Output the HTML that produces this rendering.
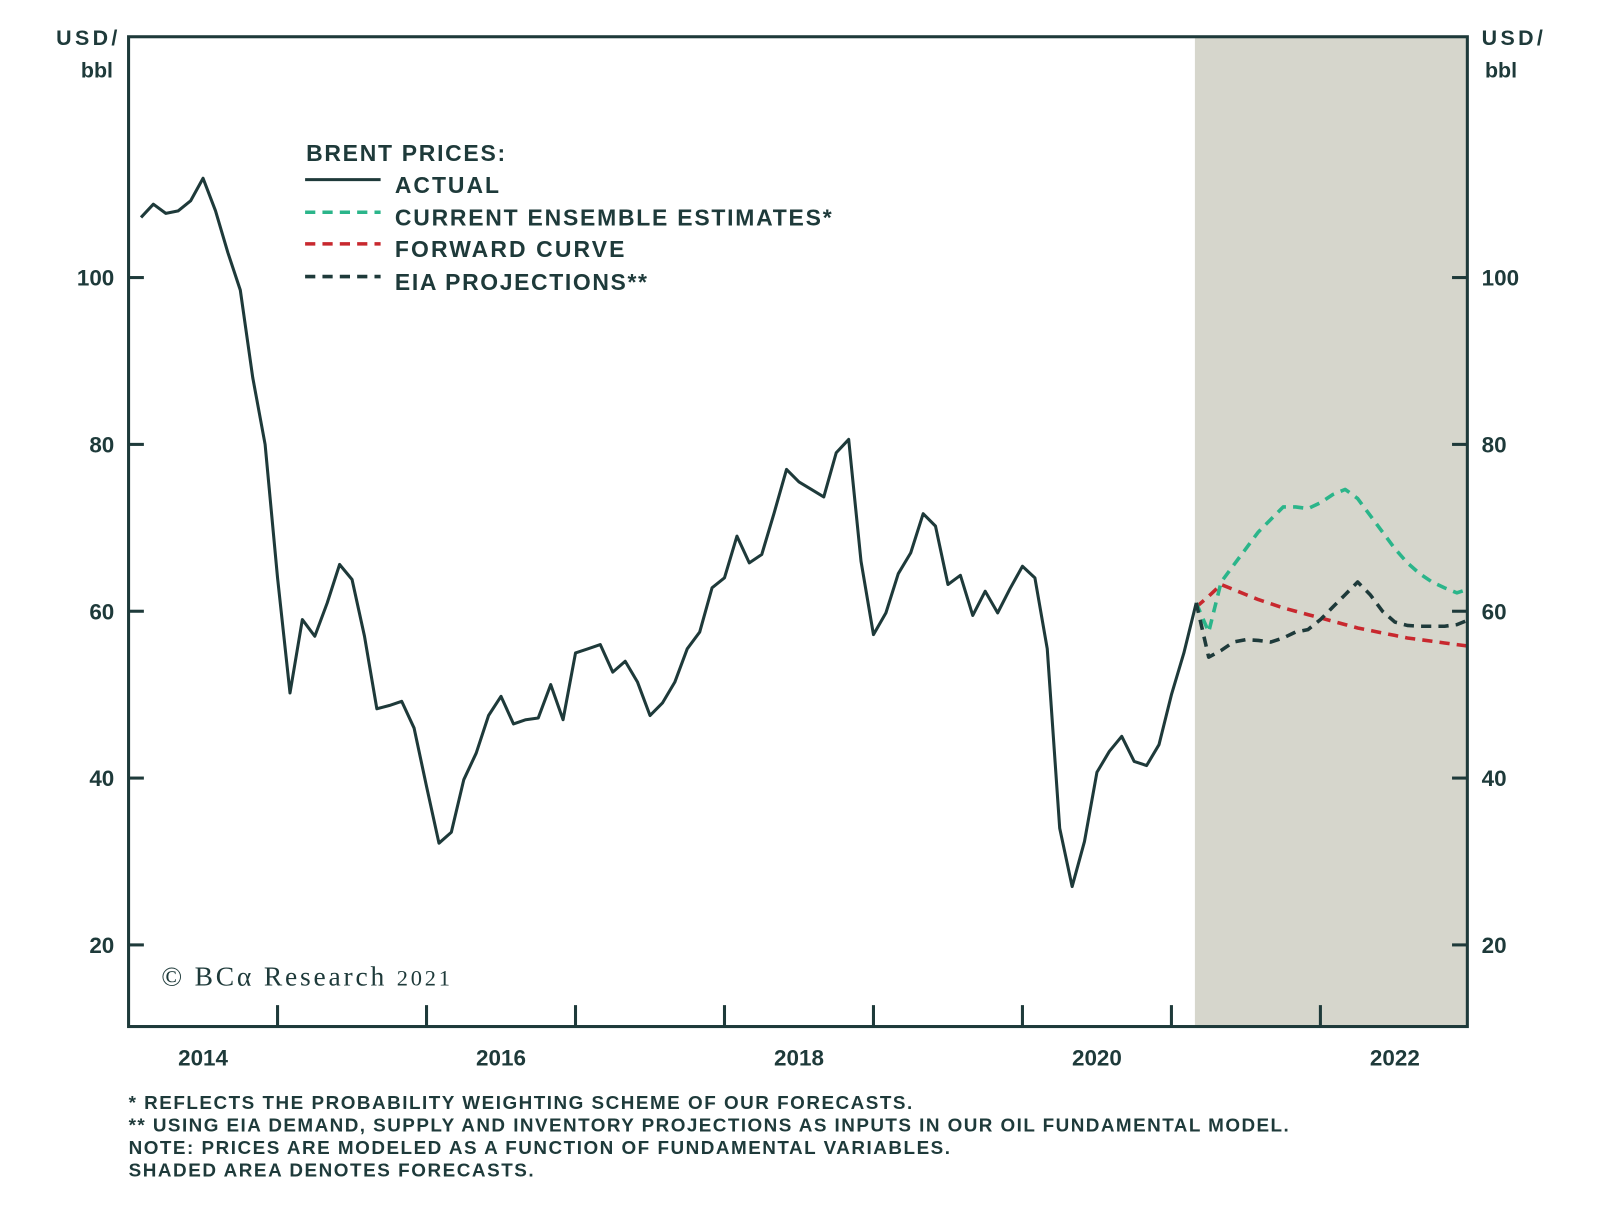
<!DOCTYPE html>
<html><head><meta charset="utf-8"><style>
html,body{margin:0;padding:0;background:#fff;}
svg{display:block;font-family:"Liberation Sans",sans-serif;}
</style></head><body>
<svg id="chart" width="1600" height="1219" viewBox="0 0 1568 1194.6" xmlns="http://www.w3.org/2000/svg">
<rect x="1171" y="36" width="267" height="970" fill="#d6d6cc"/>
<g id="ticks"></g>
<g id="series"></g>
<rect x="126" y="36" width="1312" height="970" fill="none" stroke="#1e3a3a" stroke-width="3"/>
<g fill="#1e3a3a" font-weight="bold" font-size="21">
<text x="85" y="44" text-anchor="middle" textLength="60">USD/</text>
<text x="95" y="76" text-anchor="middle">bbl</text>
<text x="1482" y="44" text-anchor="middle" textLength="60">USD/</text>
<text x="1471" y="76" text-anchor="middle">bbl</text>
</g>
<g font-weight="bold" font-size="22.5" fill="#1e3a3a">
<text x="300" y="158" textLength="195">BRENT PRICES:</text>
<line x1="299" y1="176" x2="373" y2="176" stroke="#1e3a3a" stroke-width="3"/>
<text x="387" y="189" textLength="102">ACTUAL</text>
<line x1="299" y1="208" x2="373" y2="208" stroke="#2bb58a" stroke-width="3.5" stroke-dasharray="10,7"/>
<text x="387" y="221" textLength="428">CURRENT ENSEMBLE ESTIMATES*</text>
<line x1="299" y1="239" x2="373" y2="239" stroke="#c8282e" stroke-width="3.5" stroke-dasharray="10,7"/>
<text x="387" y="252" textLength="225">FORWARD CURVE</text>
<line x1="299" y1="271" x2="373" y2="271" stroke="#1e3a3a" stroke-width="3.5" stroke-dasharray="10,7"/>
<text x="387" y="284" textLength="247">EIA PROJECTIONS**</text>
</g>
<text x="158" y="966" font-family="Liberation Serif,serif" font-size="27" fill="#1e3a3a" textLength="283">© BCα Research <tspan font-size="22">2021</tspan></text>
<g font-weight="bold" font-size="18.5" fill="#1e3a3a">
<text x="126" y="1087" textLength="768">*  REFLECTS THE PROBABILITY WEIGHTING SCHEME OF OUR FORECASTS.</text>
<text x="126" y="1109" textLength="1137">** USING EIA DEMAND, SUPPLY AND INVENTORY PROJECTIONS AS INPUTS IN OUR OIL FUNDAMENTAL MODEL.</text>
<text x="126" y="1131" textLength="805">NOTE: PRICES ARE MODELED AS A FUNCTION OF FUNDAMENTAL VARIABLES.</text>
<text x="126" y="1153" textLength="397">SHADED AREA DENOTES FORECASTS.</text>
</g>
</svg>
<script>
const actual=[107.2,108.8,107.7,108,109.2,111.9,108,103,98.5,88,80,64,
50.2,59,57,61,65.6,63.8,57,48.3,48.7,49.2,46,39,
32.2,33.5,39.8,43,47.5,49.8,46.5,47,47.2,51.2,47,55,
55.5,56,52.7,54,51.5,47.5,49,51.5,55.5,57.5,62.8,64,
69,65.8,66.8,71.8,77,75.5,74.6,73.7,79,80.6,66,57.2,
59.8,64.5,67,71.7,70.2,63.2,64.3,59.5,62.4,59.8,62.7,65.4,
64,55.5,34,27,32.4,40.7,43.2,45,42,41.5,44,50,55,61];
const ensemble=[61,57.5,63.5,65.5,67.5,69.5,71,72.5,72.5,72.3,73,74,74.6,73.5,71.5,69.5,67.5,65.8,64.5,63.5,62.8,62.2,62.7];
const forward=[60.5,61.8,63.2,62.6,62,61.4,60.9,60.4,60,59.6,59.2,58.8,58.4,58,57.7,57.4,57.1,56.8,56.6,56.4,56.2,56,55.8];
const eia=[61,54.5,55.3,56.3,56.6,56.5,56.3,56.8,57.5,57.8,59,60.5,62,63.5,62,60,58.7,58.3,58.2,58.2,58.2,58.4,59];
const yTicks=[20,40,60,80,100];
const years=[2014,2016,2018,2020,2022];
const forecastStart=85;
const NS="http://www.w3.org/2000/svg";
const x=k=>126+(k+1)*(146/12);
const y=v=>272+(100-v)*8.175;
const ticks=document.getElementById('ticks'),ser=document.getElementById('series');
function mk(tag,attrs,parent){const e=document.createElementNS(NS,tag);for(const a in attrs)e.setAttribute(a,attrs[a]);parent.appendChild(e);return e;}
yTicks.forEach(v=>{
 const l=mk('line',{x1:126,x2:141,y1:y(v),y2:y(v),stroke:'#1e3a3a','stroke-width':3},ticks);
 
 
 const r=mk('line',{x1:1423,x2:1438,y1:y(v),y2:y(v),stroke:'#1e3a3a','stroke-width':3},ticks);
 
 
 const t=mk('text',{x:112,y:y(v)+8,'text-anchor':'end','font-size':22,'font-weight':'bold',fill:'#1e3a3a'},ticks);t.textContent=v;
 
 
 const t2=mk('text',{x:1452,y:y(v)+8,'font-size':22,'font-weight':'bold',fill:'#1e3a3a'},ticks);t2.textContent=v;
 
 
});
for(let yr=2015;yr<=2022;yr++){
 const xx=126+(yr-2014)*146;
 const l=mk('line',{x1:xx,x2:xx,y1:985,y2:1006,stroke:'#1e3a3a','stroke-width':3},ticks);
 
 
}
years.forEach(yr=>{
 const t=mk('text',{x:126+(yr-2014+0.5)*146,y:1044,'text-anchor':'middle','font-size':22,'font-weight':'bold',fill:'#1e3a3a'},ticks);t.textContent=yr;
 
 
});
function line(vals,start,color,dash,name){
 const d=vals.map((v,i)=>(i?'L':'M')+x(start+i).toFixed(1)+','+y(v).toFixed(1)).join('');
 const p=mk('path',{d:d,fill:'none',stroke:color,'stroke-width':dash?3.5:3,'stroke-linejoin':'round'},ser);
 if(dash)p.setAttribute('stroke-dasharray','10,7');
 
 
}
line(forward,forecastStart,'#c8282e',true,'forward-curve-line');
line(ensemble,forecastStart,'#2bb58a',true,'ensemble-estimates-line');
line(eia,forecastStart,'#1e3a3a',true,'eia-projections-line');
line(actual,0,'#1e3a3a',false,'actual-price-line');
</script>
</body></html>
